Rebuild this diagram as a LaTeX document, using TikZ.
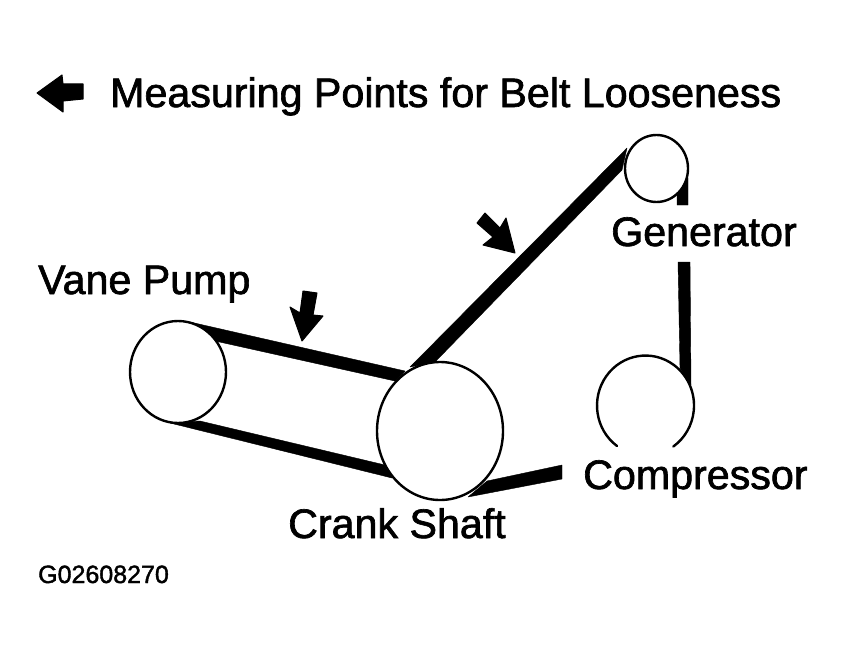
\documentclass[tikz,border=0pt]{standalone}
\usepackage{fontspec}
\setmainfont{Liberation Sans}
\usetikzlibrary{shapes.geometric}
\newfontface\labelfont{Liberation Sans}[FakeBold=1.6]
\tikzset{
  pulley/.style={draw=black,fill=white,ellipse,line width=2.4pt,inner sep=0pt,minimum width=#1},
  belt/.style={fill=black,draw=black,line width=.4pt,line join=round},
  lab/.style={anchor=base west,inner sep=0pt,font=\labelfont\fontsize{41.2}{41}\selectfont},
  smalllab/.style={anchor=base west,inner sep=0pt,font=\labelfont\fontsize{25}{25}\selectfont},
  marker/.style={fill=black,draw=black,line width=1pt,line join=round}
}
\begin{document}
\begin{tikzpicture}[x=1pt,y=-1pt]
\useasboundingbox (0,0) rectangle (845,658);
% belt outlines
\coordinate (ta) at (190,322); \coordinate (tb) at (405,371); \coordinate (tc) at (395,381); \coordinate (td) at (215,341);
\coordinate (ba) at (170,423); \coordinate (bb) at (200,421); \coordinate (bc) at (385,465); \coordinate (bd) at (392,478);
\coordinate (da) at (410,367); \coordinate (db) at (627,148); \coordinate (dc) at (622,170); \coordinate (dd) at (435,362);
\coordinate (fa) at (468,497); \coordinate (fb) at (487,481); \coordinate (fc) at (562,465); \coordinate (fd) at (562,479);
\coordinate (ga) at (677,205); \coordinate (gb) at (677,190); \coordinate (gc) at (688,178); \coordinate (gd) at (688,205);
\coordinate (pa) at (678,262); \coordinate (pb) at (690,262); \coordinate (pc) at (691,385); \coordinate (pd) at (680,368);
% belts
\fill[belt] (ta) -- (tb) -- (tc) -- (td) -- cycle;
\fill[belt] (ba) -- (bb) -- (bc) -- (bd) -- cycle;
\fill[belt] (da) -- (db) -- (dc) -- (dd) -- cycle;
\fill[belt] (fa) -- (fb) -- (fc) -- (fd) -- cycle;
\fill[belt] (ga) -- (gb) -- (gc) -- (gd) -- cycle;
\fill[belt] (pa) -- (pb) -- (pc) -- (pd) -- cycle;
% pulleys
\node[pulley=96pt,minimum height=102pt] (vane) at (178,372) {};
\node[pulley=126pt,minimum height=138pt] (crank) at (440,431) {};
\node[pulley=63pt,minimum height=67pt] (gen) at (656.5,168.5) {};
\draw[line width=2.4pt,line cap=round] (617,446) arc[start angle=234,end angle=-55,x radius=48.5pt,y radius=50pt];
% measuring-point arrows
\fill[marker] (37,93) -- (62,75) -- (63,84) -- (83,84) -- (83,99) -- (63,101) -- (63,112) -- cycle;
\fill[marker] (303,291) -- (317,293) -- (313,315) -- (323,316) -- (302,341) -- (290,307) -- (300,313) -- cycle;
\fill[marker] (477,223) -- (485,213) -- (500,228) -- (506,218) -- (515,253) -- (483,245) -- (493,237) -- cycle;
% labels
\node[lab] (title) at (110,107) {Measuring Points for Belt Looseness};
\node[lab] (vanel) at (38,294) {Vane Pump};
\node[lab] (genl) at (611,246) {Generator};
\node[lab] (compl) at (583,489) {Compressor};
\node[lab] (crankl) at (288,538) {Crank Shaft};
\node[smalllab] (code) at (38,583) {G02608270};
\end{tikzpicture}
\end{document}
